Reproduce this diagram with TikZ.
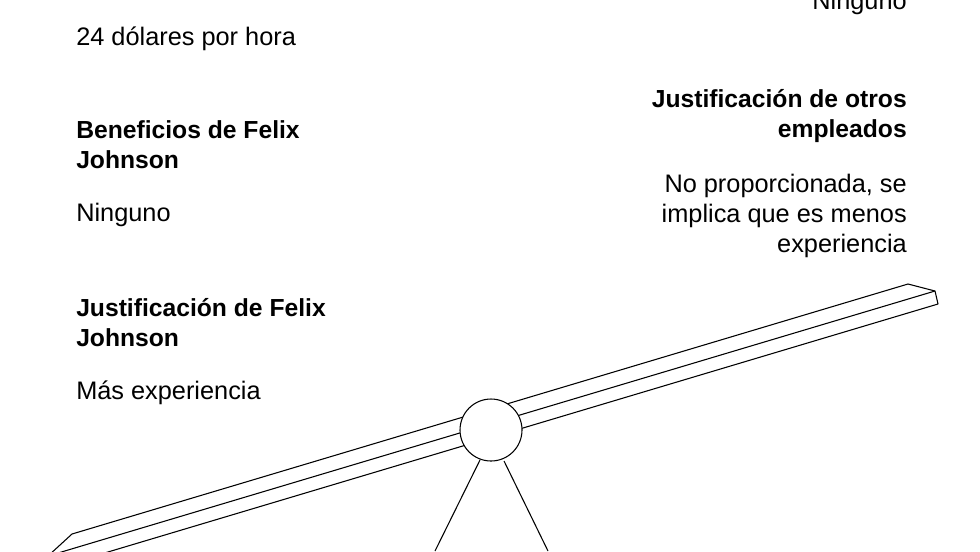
\documentclass[tikz,border=0pt]{standalone}
\usepackage{fontspec}
\setmainfont{Liberation Sans}
\begin{document}
\begin{tikzpicture}[x=0.75pt,y=-0.75pt,
  t/.style={inner sep=0pt,font=\fontsize{19}{22.5}\selectfont},
  tb/.style={t,font=\fontsize{18.5}{22.5}\selectfont\bfseries},
  ln/.style={line width=0.8pt,black}]
\useasboundingbox (0,0) rectangle (980,551);
\clip (0,0) rectangle (980,551);
\node[t,anchor=base west] (a1) at (76,45) {24 dólares por hora};
\node[tb,anchor=base west,align=left] (a2) at (76,168) {Beneficios de Felix\\Johnson};
\node[t,anchor=base west] (a3) at (76,221) {Ninguno};
\node[tb,anchor=base west,align=left] (a4) at (76,346) {Justificación de Felix\\Johnson};
\node[t,anchor=base west] (a5) at (76,399) {Más experiencia};
\node[t,anchor=base east] (b1) at (907,9) {Ninguno};
\node[tb,anchor=base east,align=right] (b2) at (907,137) {Justificación de otros\\empleados};
\node[t,anchor=base east,align=right] (b3) at (907,252) {No proporcionada, se\\implica que es menos\\experiencia};
% beam
\draw[ln,line join=round] (908,284) -- (935,291) -- (938,304) -- (51,569) -- (48,556) -- (72,534) -- cycle;
\draw[ln] (48,556) -- (935,291);
% fulcrum
\coordinate (l1) at (480,460); \coordinate (l2) at (435,551);
\coordinate (r1) at (504,461); \coordinate (r2) at (548,551);
\draw[ln] (l1) -- (l2); \draw[ln] (r1) -- (r2);
\node[circle,draw,line width=0.8pt,fill=white,minimum size=46.5pt,inner sep=0pt] (c) at (491,430) {};
\end{tikzpicture}
\end{document}
